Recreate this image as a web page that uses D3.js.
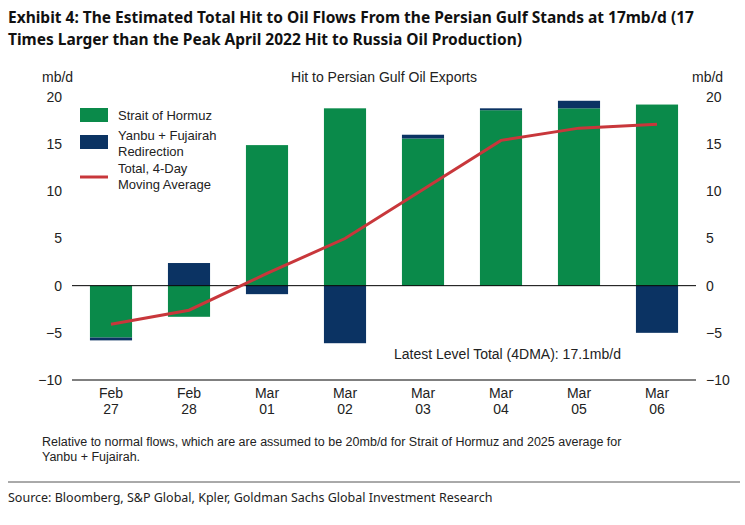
<!DOCTYPE html>
<html><head><meta charset="utf-8">
<script src="https://cdn.jsdelivr.net/npm/d3@7"></script>
<style>body{margin:0;background:#fff}</style>
</head><body>
<svg id="chart" width="745" height="525"></svg>
<script>
const dates = ["Feb\n27","Feb\n28","Mar\n01","Mar\n02","Mar\n03","Mar\n04","Mar\n05","Mar\n06"];
const hormuz = [-5.5, -3.3, 14.9, 18.8, 15.6, 18.6, 18.8, 19.2];
const yanbu = [-0.3, 2.4, -0.9, -6.1, 0.4, 0.2, 0.8, -5.0];
const total4d = [-4.1, -2.6, 1.3, 5.0, 10.2, 15.4, 16.7, 17.1];
const yTicks = [-10, -5, 0, 5, 10, 15, 20];

const svg = d3.select("#chart");
const font = "Liberation Sans, Arial, sans-serif";
const green = "#0a8a4a", navy = "#0b3363", red = "#c8373b";

// Title
const title = svg.append("g").attr("font-family", "Noto Sans, sans-serif").attr("font-weight", "bold")
  .attr("font-size", 15.5).attr("fill", "#111");
title.append("text").attr("x", 8).attr("y", 23).text("Exhibit 4: The Estimated Total Hit to Oil Flows From the Persian Gulf Stands at 17mb/d (17");
title.append("text").attr("x", 8).attr("y", 45).text("Times Larger than the Peak April 2022 Hit to Russia Oil Production)");

const pLeft = 72, pRight = 696, pTop = 97, pBottom = 380;
const x = d3.scaleBand().domain(d3.range(dates.length)).range([pLeft, pRight]).paddingInner(0.46).paddingOuter(0.23);
const y = d3.scaleLinear().domain([-10, 20]).range([pBottom, pTop]);

const g = svg.append("g").attr("font-family", font).attr("font-size", 13).attr("fill", "#222");

// Bars: green from 0, navy stacked beyond green when same sign, else from 0
dates.forEach((d, i) => {
  const h = hormuz[i], n = yanbu[i];
  g.append("rect").attr("x", x(i)).attr("width", x.bandwidth())
    .attr("y", y(Math.max(0, h))).attr("height", Math.abs(y(h) - y(0))).attr("fill", green);
  const base = Math.sign(n) === Math.sign(h) ? h : 0;
  const end = base + n;
  g.append("rect").attr("x", x(i)).attr("width", x.bandwidth())
    .attr("y", y(Math.max(base, end))).attr("height", Math.abs(y(end) - y(base))).attr("fill", navy);
});

// Axes
g.append("line").attr("x1", pLeft).attr("x2", pRight).attr("y1", y(0)).attr("y2", y(0)).attr("stroke", "#000");
g.append("line").attr("x1", pLeft).attr("x2", pRight).attr("y1", pBottom).attr("y2", pBottom).attr("stroke", "#000");
const ya = g.append("g").attr("transform", `translate(${pLeft},0)`)
  .call(d3.axisLeft(y).tickValues(yTicks).tickSize(0).tickPadding(10).tickFormat(d => d < 0 ? "\u2212" + (-d) : d));
const yb = g.append("g").attr("transform", `translate(${pRight},0)`)
  .call(d3.axisRight(y).tickValues(yTicks).tickSize(0).tickPadding(10).tickFormat(d => d < 0 ? "\u2212" + (-d) : d));
[ya, yb].forEach(a => { a.select(".domain").remove(); a.selectAll("text").attr("font-size", 14).attr("font-family", font).attr("fill", "#222"); });

// x labels
dates.forEach((d, i) => {
  const t = g.append("text").attr("text-anchor", "middle").attr("font-size", 14).attr("x", x(i) + x.bandwidth() / 2);
  d.split("\n").forEach((s, k) => t.append("tspan").attr("x", x(i) + x.bandwidth() / 2).attr("y", 398 + k * 16).text(s));
});

// line
const line = d3.line().x((d, i) => x(i) + x.bandwidth() / 2).y(d => y(d));
g.append("path").datum(total4d).attr("d", line).attr("fill", "none").attr("stroke", red).attr("stroke-width", 3);

// labels
g.append("text").attr("x", 42).attr("y", 82).attr("font-size", 14).text("mb/d");
g.append("text").attr("x", 692).attr("y", 82).attr("font-size", 14).text("mb/d");
g.append("text").attr("x", 384).attr("y", 82).attr("text-anchor", "middle").attr("font-size", 14).text("Hit to Persian Gulf Oil Exports");
g.append("text").attr("x", 394).attr("y", 359).attr("font-size", 14).text("Latest Level Total (4DMA): 17.1mb/d");

// legend
const lg = g.append("g").attr("font-size", 13);
lg.append("rect").attr("x", 80).attr("y", 108).attr("width", 28).attr("height", 14).attr("fill", green);
lg.append("text").attr("x", 118).attr("y", 120).text("Strait of Hormuz");
lg.append("rect").attr("x", 80).attr("y", 135).attr("width", 28).attr("height", 14).attr("fill", navy);
lg.append("text").attr("x", 118).attr("y", 140).text("Yanbu + Fujairah");
lg.append("text").attr("x", 118).attr("y", 156).text("Redirection");
lg.append("line").attr("x1", 80).attr("x2", 108).attr("y1", 177).attr("y2", 177).attr("stroke", red).attr("stroke-width", 3);
lg.append("text").attr("x", 118).attr("y", 173).text("Total, 4-Day");
lg.append("text").attr("x", 118).attr("y", 189).text("Moving Average");

// note
g.append("text").attr("x", 42).attr("y", 446).attr("font-size", 12.5).text("Relative to normal flows, which are are assumed to be 20mb/d for Strait of Hormuz and 2025 average for");
g.append("text").attr("x", 42).attr("y", 461).attr("font-size", 12.5).text("Yanbu + Fujairah.");

svg.append("line").attr("x1", 8).attr("x2", 740).attr("y1", 482).attr("y2", 482).attr("stroke", "#555");
svg.append("text").attr("x", 8).attr("y", 502).attr("font-family", "Noto Sans, sans-serif").attr("font-size", 12.5).attr("fill", "#222")
  .text("Source: Bloomberg, S&P Global, Kpler, Goldman Sachs Global Investment Research");
</script>
</body></html>
